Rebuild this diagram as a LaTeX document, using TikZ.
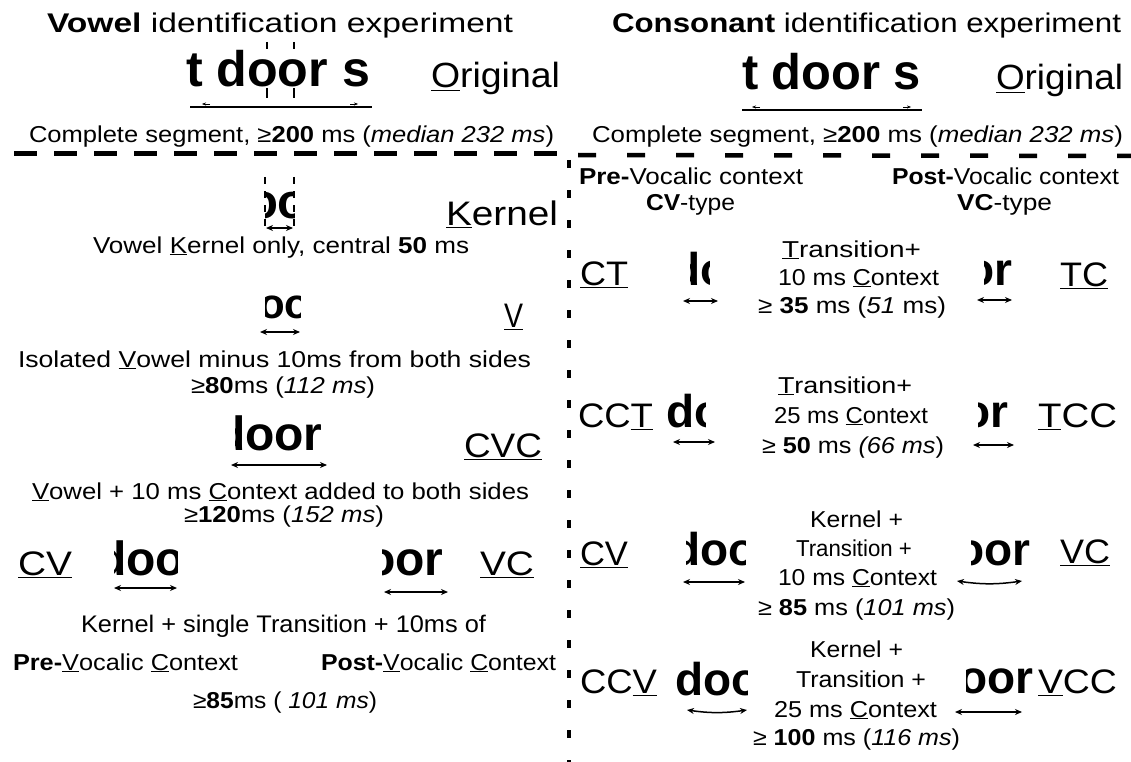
\documentclass[tikz,border=0pt]{standalone}
\usepackage{fontspec}
\setmainfont{Liberation Sans}
\usepackage{graphicx}
\usetikzlibrary{arrows.meta}
\newcommand\ul[1]{\leavevmode\setbox0=\hbox{#1}\rlap{\rule[-0.1em]{\wd0}{0.055em}}\box0}
\tikzset{
  txt/.style={anchor=base west, inner sep=0pt, outer sep=0pt},
  dimarrow/.style={{Stealth[length=7pt,width=6pt]}-{Stealth[length=7pt,width=6pt]}, line width=1.5pt},
  hdash/.style={line width=5pt, dash pattern=on 23pt off 17pt},
  vdash/.style={line width=3.5pt, dash pattern=on 8pt off 22pt},
  tick/.style={line width=1.3pt},
}
% name, x-left, x-right, baseline, size, text
\newcommand\tn[6]{%
  \pgfmathsetmacro\tnw{#3-#2}%
  \node[txt, font=\fontsize{#5}{#5}\selectfont] (#1) at (#2,#4) {\resizebox{\tnw pt}{\height}{#6}};}
% name, size, x of first letter, baseline, clip-left, clip-right, letters
\newcommand\frag[7]{%
  \begin{scope}
  \clip (#5,#4-60) rectangle (#6,#4+15);
  \node[txt, font=\fontsize{#2}{#2}\selectfont\bfseries] (#1) at (#3,#4) {#7};
  \end{scope}}
\begin{document}
\begin{tikzpicture}[x=1pt,y=-1pt]
\fill[white] (0,0) rectangle (1131,762);
\useasboundingbox (0,0) rectangle (1131,762);

% ---------------- left panel ----------------
\tn{tl}{47}{513}{33}{27}{\textbf{Vowel} identification experiment}
\tn{wl}{186}{370}{87}{50}{\textbf{t door s}}
\tn{ol}{431}{560}{88}{35}{\ul{O}riginal}
\draw[line width=1.5pt] (190,107) -- (372,107);
\draw[line width=0.4pt,-{Stealth[length=4pt,width=3pt]}] (210,104) -- (202,104);
\draw[line width=0.4pt,-{Stealth[length=4pt,width=3pt]}] (350,104) -- (358,104);
\draw[tick] (267,42) -- (267,49) (294,42) -- (294,49) (267,88) -- (267,98) (294,88) -- (294,98);
\tn{cl}{29}{554}{143}{23}{Complete segment, ≥\textbf{200} ms (\textit{median 232 ms})}

\frag{fk}{49}{248}{218}{265}{294}{oo}
\draw[line width=1.2pt, dash pattern=on 7pt off 7pt] (265,177) -- (265,233);
\draw[line width=1.2pt, dash pattern=on 7pt off 7pt] (294,177) -- (294,233);
\draw[dimarrow] (266,228) -- (293,228);
\tn{kl}{446}{558}{225}{34}{\ul{K}ernel}
\tn{kt}{93}{469}{253}{23}{Vowel \ul{K}ernel only, central \textbf{50} ms}

\frag{fv}{42}{259}{318}{265}{300}{oo}
\draw[dimarrow] (260,332) -- (300,332);
\tn{vl}{504}{523}{327}{34}{\ul{V}}
\tn{vt1}{18}{531}{367}{23}{Isolated \ul{V}owel minus 10ms from both sides}
\tn{vt2}{191}{375}{393}{23}{≥\textbf{80}ms (\textit{112 ms})}

\frag{fcvc}{48}{216}{450}{235}{321}{door}
\draw[dimarrow] (231,465) -- (327,465);
\tn{cvcl}{464}{542}{457}{34}{\ul{CVC}}
\tn{ct1}{32}{529}{499}{23}{\ul{V}owel + 10 ms \ul{C}ontext added to both sides}
\tn{ct2}{184}{384}{522}{23}{≥\textbf{120}ms (\textit{152 ms})}

\tn{cvl}{18}{72}{575}{34}{\ul{CV}}
\frag{fcv}{48}{97}{575}{114}{177}{doo}
\draw[dimarrow] (114,588) -- (177,588);
\frag{fvc}{48}{366}{575}{382}{450}{oor}
\draw[dimarrow] (384,592) -- (448,592);
\tn{vcl}{480}{534}{575}{34}{\ul{VC}}
\tn{ks}{81}{486}{632}{24}{Kernel + single Transition + 10ms of}
\tn{pre}{13}{238}{670}{23}{\textbf{Pre-}\ul{V}ocalic \ul{C}ontext}
\tn{post}{321}{556}{670}{23}{\textbf{Post-}\ul{V}ocalic \ul{C}ontext}
\tn{s85}{193}{377}{708}{23}{≥\textbf{85}ms ( \textit{101 ms})}

% ---------------- dividers ----------------
\draw[hdash] (14,154) -- (565,154);
\draw[line width=4.5pt, dash pattern=on 18pt off 31pt] (578,155) -- (1131,156);
\draw[vdash] (569,160) -- (569,762);

% ---------------- right panel ----------------
\tn{tr}{612}{1121}{33}{27}{\textbf{Consonant} identification experiment}
\tn{wr}{742}{921}{90}{50}{\textbf{t door s}}
\tn{or}{996}{1123}{90}{35}{\ul{O}riginal}
\draw[line width=1.5pt] (742,110) -- (922,110);
\draw[line width=0.4pt,-{Stealth[length=4pt,width=3pt]}] (760,107) -- (752,107);
\draw[line width=0.4pt,-{Stealth[length=4pt,width=3pt]}] (903,107) -- (911,107);
\tn{cr}{592}{1123}{143}{23}{Complete segment, ≥\textbf{200} ms (\textit{median 232 ms})}

\tn{prev}{579}{803}{185}{23}{\textbf{Pre-}Vocalic context}
\tn{cvt}{646}{735}{210}{23}{\textbf{CV}-type}
\tn{postv}{892}{1119}{185}{23}{\textbf{Post-}Vocalic context}
\tn{vct}{957}{1052}{210}{23}{\textbf{VC}-type}

% row 1
\tn{r1l}{580}{628}{285}{34}{\ul{CT}}
\frag{r1a}{46}{672}{285}{690}{709}{do}
\draw[dimarrow] (683,301) -- (718,301);
\tn{r1c1}{782}{921}{257}{23}{\ul{T}ransition+}
\tn{r1c2}{778}{939}{285}{23}{10 ms \ul{C}ontext}
\tn{r1c3}{758}{946}{313}{23}{≥ \textbf{35} ms (\textit{51} ms)}
\frag{r1b}{46}{966}{285}{984}{1015}{or}
\draw[dimarrow] (977,300) -- (1012,300);
\tn{r1r}{1060}{1108}{286}{34}{\ul{TC}}

% row 2
\tn{r2l}{578}{653}{427}{34}{CC\ul{T}}
\frag{r2a}{46}{666}{427}{660}{705}{do}
\draw[dimarrow] (673,442) -- (715,442);
\tn{r2c1}{778}{912}{393}{23}{\ul{T}ransition+}
\tn{r2c2}{774}{928}{423}{23}{25 ms \ul{C}ontext}
\tn{r2c3}{762}{944}{453}{23}{≥ \textbf{50} ms \textit{(66 ms})}
\frag{r2b}{46}{962}{427}{978}{1012}{or}
\draw[dimarrow] (973,445) -- (1014,445);
\tn{r2r}{1038}{1117}{427}{34}{\ul{T}CC}

% row 3
\tn{r3l}{580}{628}{565}{34}{\ul{CV}}
\frag{r3a}{46}{672}{565}{686}{745}{doo}
\draw[dimarrow] (683,582) -- (745,582);
\tn{r3c0}{810}{903}{527}{23}{Kernel +}
\tn{r3c1}{796}{912}{556}{23}{Transition +}
\tn{r3c2}{778}{937}{585}{23}{10 ms \ul{C}ontext}
\tn{r3c3}{758}{955}{615}{23}{≥ \textbf{85} ms (\textit{101 ms})}
\frag{r3b}{46}{956}{565}{971}{1034}{oor}
\draw[dimarrow] (957,581) to[bend right=8] (1022,581);
\tn{r3r}{1060}{1110}{563}{34}{\ul{VC}}

% row 4
\tn{r4l}{580}{657}{693}{34}{CC\ul{V}}
\frag{r4a}{46}{675}{695}{660}{747}{doo}
\draw[dimarrow] (687,710) to[bend right=8] (747,710);
\tn{r4c0}{810}{903}{657}{23}{Kernel +}
\tn{r4c1}{796}{926}{687}{23}{Transition +}
\tn{r4c2}{774}{937}{717}{23}{25 ms \ul{C}ontext}
\tn{r4c3}{753}{960}{745}{23}{≥ \textbf{100} ms (\textit{116 ms})}
\frag{r4b}{46}{959}{693}{966}{1037}{oor}
\draw[dimarrow] (955,712) -- (1022,712);
\tn{r4r}{1038}{1117}{693}{34}{\ul{V}CC}
\end{tikzpicture}
\end{document}
